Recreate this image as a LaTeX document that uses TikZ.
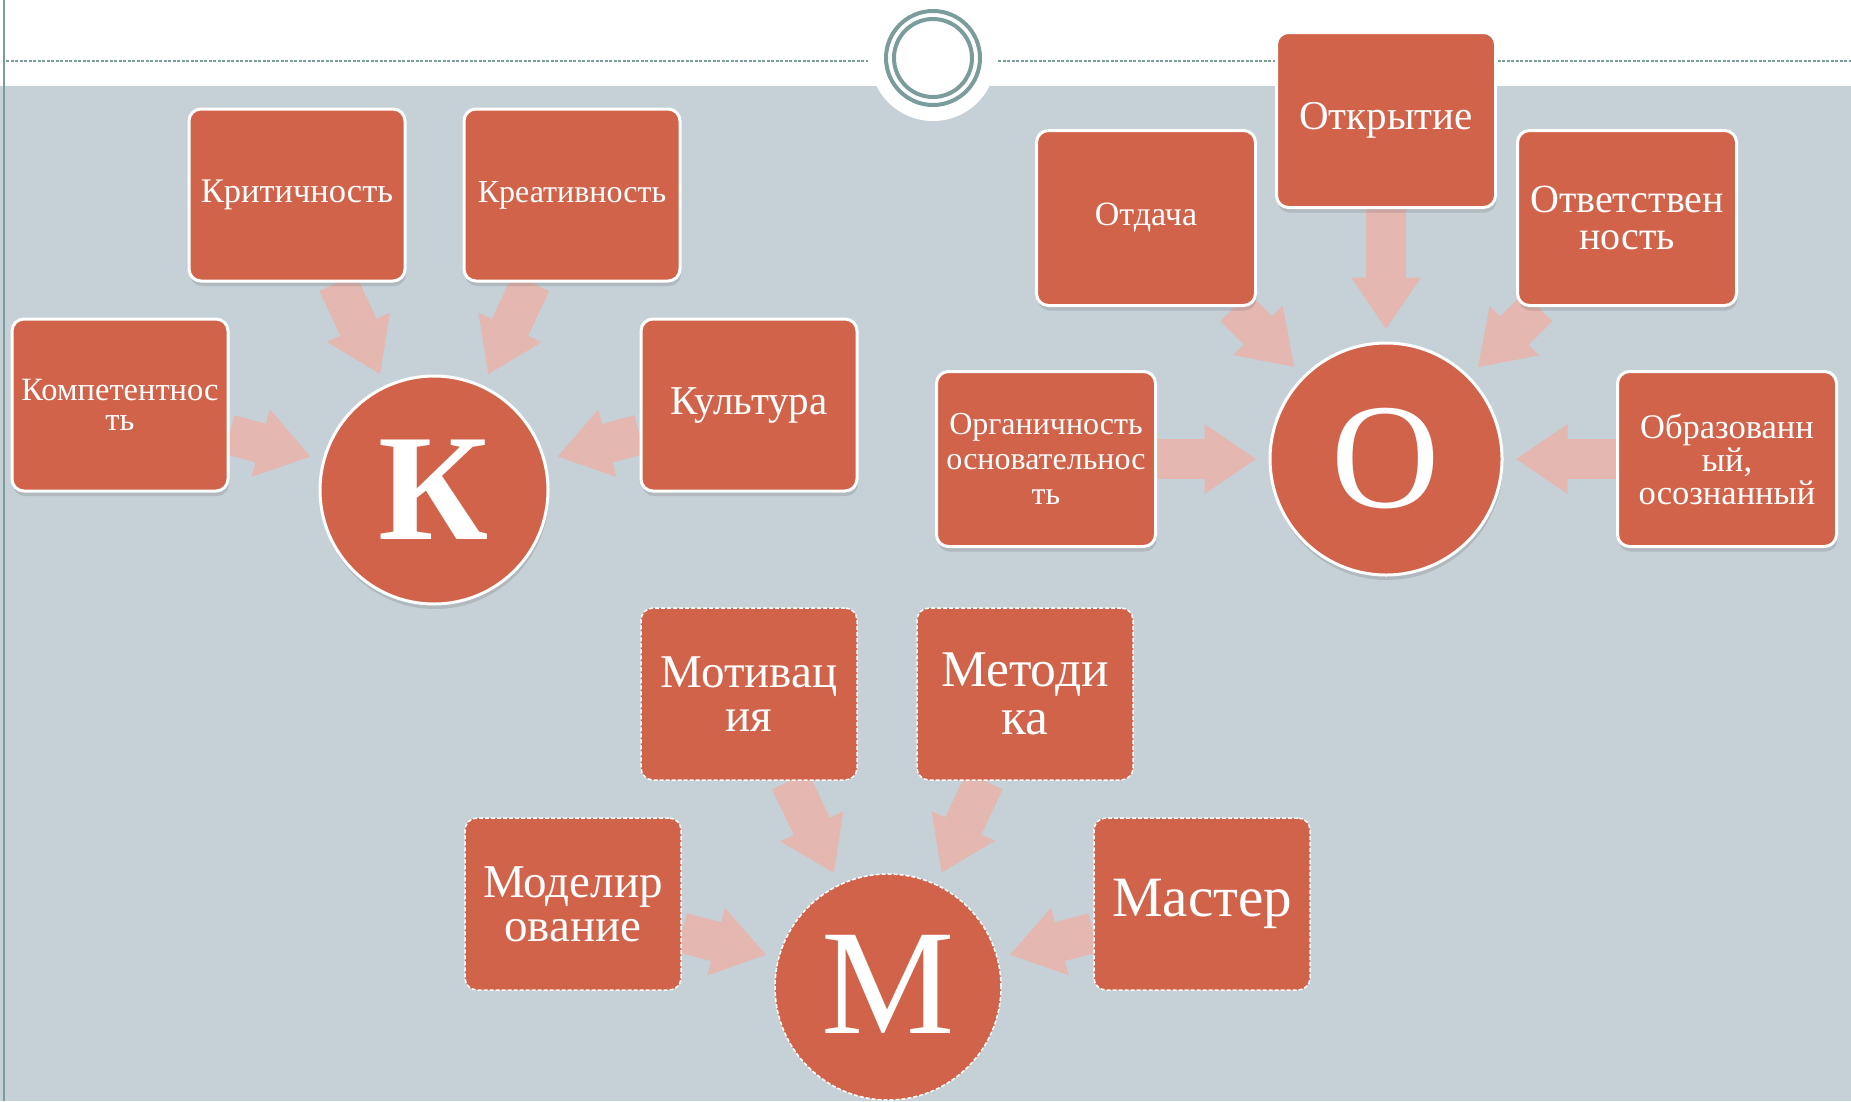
\documentclass[tikz,border=0pt]{standalone}
\usepackage{fontspec}
\setmainfont{Liberation Serif}
\usetikzlibrary{arrows.meta,shadows}

\definecolor{slateBg}{HTML}{C5D1D7}
\definecolor{brickRed}{HTML}{D1634A}
\definecolor{pinkArrow}{HTML}{E4B7B1}
\definecolor{tealRing}{HTML}{7A9C9A}

\pgfdeclarelayer{back}
\pgfdeclarelayer{links}
\pgfsetlayers{back,links,main}

\def \boxW {216pt}
\def \boxH {172pt}
\def \hubSize {228pt}
\def \fs #1{\fontsize{#1}{\fpeval{0.93*#1}}\selectfont}
\def \fsw #1{\fontsize{#1}{\fpeval{1.1*#1}}\selectfont}

\begin{document}
\begin{tikzpicture}[x=1pt, y=-1pt,
    box/.style={draw=white, line width=3pt, fill=brickRed, rounded corners=12pt,
      minimum width=\boxW, minimum height=\boxH, text=white, align=center, inner sep=3pt,
      drop shadow={shadow xshift=1pt, shadow yshift=-5pt, opacity=0.22, fill=black!60}},
    dbox/.style={draw=white, line width=1.5pt, dash pattern=on 4pt off 2pt, fill=brickRed,
      rounded corners=12pt, minimum width=\boxW, minimum height=\boxH, text=white,
      align=center, inner sep=3pt},
    hub/.style={circle, draw=white, line width=3pt, fill=brickRed, minimum size=\hubSize,
      text=white, inner sep=0pt, font=\fs{150},
      drop shadow={shadow xshift=1pt, shadow yshift=-5pt, opacity=0.22, fill=black!60}},
    dhub/.style={circle, draw=white, line width=1.5pt, dash pattern=on 4pt off 2pt,
      fill=brickRed, minimum size=\hubSize, text=white, inner sep=0pt, font=\fs{150}},
    link/.style={draw=pinkArrow, line width=40pt, -{Triangle[length=52pt,width=66pt]},
      shorten >=12pt},
  ]
  \useasboundingbox (0,0) rectangle (1851,1101);

  % slide background
  \begin{pgfonlayer}{back}
    \fill[white] (0,0) rectangle (1851,1101);
    \fill[slateBg] (0,86) rectangle (1851,1101);
    \draw[tealRing, line width=1.5pt] (4,0) -- (4,1101);
    \draw[tealRing, line width=1.5pt, dash pattern=on 3pt off 1.5pt] (6,61) -- (868,61);
    \draw[tealRing, line width=1.5pt, dash pattern=on 3pt off 1.5pt] (998,61) -- (1851,61);
    \fill[white] (933,58) circle (63);
    \draw[tealRing, line width=4pt] (933,58) circle (47);
    \draw[tealRing, line width=4pt] (933,58) circle (39);
  \end{pgfonlayer}

  % K
  \node[hub, font=\fs{152}\bfseries] (K) at (434,490) {К};
  \node[box, font=\fs{34.5}] (krit) at (297,195) {Критичность};
  \node[box, font=\fs{32}] (kreat) at (572,195) {Креативность};
  \node[box, font=\fs{32.5}] (komp) at (120,405) {Компетентнос\\ть};
  \node[box, font=\fs{41}] (kult) at (749,405) {Культура};

  % O
  \node[hub, minimum size=232pt] (O) at (1386,459) {О};
  \node[box, minimum width=219pt, minimum height=175pt, font=\fs{34}] (otdacha) at (1146,218) {Отдача};
  \node[box, minimum width=219pt, minimum height=175pt, font=\fs{41}] (otkr) at (1386,120) {Открытие};
  \node[box, minimum width=219pt, minimum height=175pt, font=\fs{40}] (otvet) at (1627,218) {Ответствен\\ность};
  \node[box, minimum width=219pt, minimum height=175pt, font=\fsw{32}] (organ) at (1046,459) {Органичность\\основательнос\\ть};
  \node[box, minimum width=219pt, minimum height=175pt, font=\fontsize{34.5}{33}\selectfont] (obraz) at (1727,459) {Образованн\\ый,\\осознанный};

  % M
  \node[dhub, minimum size=226pt] (M) at (888,987) {\raisebox{6pt}{М}};
  \node[dbox, font=\fs{47}] (motiv) at (749,694) {Мотивац\\ия};
  \node[dbox, font=\fs{51.5}] (metod) at (1025,694) {Методи\\ка};
  \node[dbox, font=\fs{47}] (model) at (573,904) {Моделир\\ование};
  \node[dbox, font=\fs{57}] (master) at (1202,904) {Мастер};

  \begin{pgfonlayer}{links}
    \foreach \src/\dst in {krit/K, kreat/K, komp/K, kult/K,
        otdacha/O, otkr/O, otvet/O, organ/O, obraz/O,
        motiv/M, metod/M, model/M, master/M}
      \draw[link] (\src) -- (\dst);
  \end{pgfonlayer}
\end{tikzpicture}
\end{document}
